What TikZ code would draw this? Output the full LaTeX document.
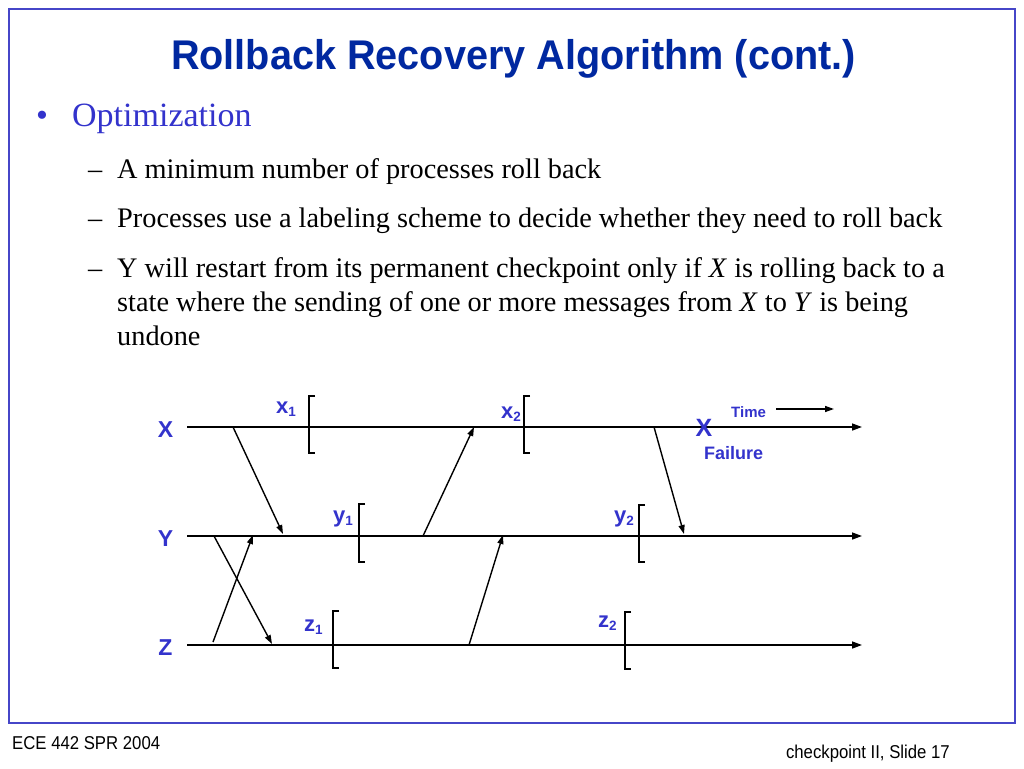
\documentclass[tikz,border=0pt]{standalone}
\usepackage{fontspec}
\setmainfont{Liberation Serif}
\newfontfamily\arial{Liberation Sans}
\newfontfamily\arialt[FakeStretch=0.955]{Liberation Sans}
\newfontfamily\arialn[FakeStretch=0.9]{Liberation Sans}
\usetikzlibrary{arrows.meta}
\definecolor{titleblue}{RGB}{0,40,160}
\definecolor{txtblue}{RGB}{51,51,204}
\definecolor{frameblue}{RGB}{70,70,200}
\tikzset{
  x=1pt, y=-1pt,
  tl/.style={line width=1.5pt, -{Triangle[length=10pt,width=7pt]}},
  msg/.style={line width=1.4pt, -{Triangle[length=9pt,width=6pt]}},
  ckpt/.style={line width=2.6pt, line cap=butt},
  proc/.style={inner sep=0, text=txtblue, font=\arial\bfseries\fontsize{23}{23}\selectfont},
  lab/.style={inner sep=0, anchor=base west, text=txtblue, font=\arial\bfseries\fontsize{22}{22}\selectfont},
  body/.style={inner sep=0, anchor=base west, font=\fontsize{28.3}{32}\selectfont},
}
\newcommand{\sub}[1]{\raisebox{-3pt}{\fontsize{13.5}{13.5}\selectfont #1}}
\begin{document}
\begin{tikzpicture}
\useasboundingbox (0,0) rectangle (1024,768);
\fill[white] (0,0) rectangle (1024,768);
\draw[frameblue, line width=2pt] (9,9) rectangle (1015,723);
% title
\node[inner sep=0, anchor=base, text=titleblue, font=\arialt\bfseries\fontsize{41.5}{44}\selectfont] (title) at (513.5,69) {Rollback Recovery Algorithm (cont.)};
% bullets
\node[inner sep=0, anchor=base west, text=txtblue, font=\fontsize{34}{36}\selectfont] (b0) at (36,126) {•};
\node[inner sep=0, anchor=base west, text=txtblue, font=\fontsize{34}{36}\selectfont] (opt) at (72,126) {Optimization};
\node[body] (d1) at (88,178) {–};
\node[body] (t1) at (117,178) {A minimum number of processes roll back};
\node[body] (d2) at (88,227) {–};
\node[body] (t2) at (117,227) {Processes use a labeling scheme to decide whether they need to roll back};
\node[body] (d3) at (88,277) {–};
\node[body] (t3) at (117,277) {Y will restart from its permanent checkpoint only if \textit{X} is rolling back to a};
\node[body] (t4) at (117,311) {state where the sending of one or more messages from \textit{X} to \textit{Y} is being};
\node[body] (t5) at (117,345) {undone};
% process labels
\node[proc] (X) at (165.5,430) {X};
\node[proc] (Y) at (165.5,539) {Y};
\node[proc] (Z) at (165.5,648) {Z};
% timelines
\coordinate (xs) at (187,427); \coordinate (xe) at (862,427);
\coordinate (ys) at (187,536); \coordinate (ye) at (862,536);
\coordinate (zs) at (187,645); \coordinate (ze) at (862,645);
\draw[tl] (xs) -- (xe);
\draw[tl] (ys) -- (ye);
\draw[tl] (zs) -- (ze);
% checkpoints
\draw[ckpt] (315,396) -| (309,453) -- (315,453);
\draw[ckpt] (530,396) -| (524,453) -- (530,453);
\draw[ckpt] (365,504) -| (359,562) -- (365,562);
\draw[ckpt] (339,611) -| (333,668) -- (339,668);
\draw[ckpt] (645,505) -| (639,562) -- (645,562);
\draw[ckpt] (631,612) -| (625,669) -- (631,669);
% checkpoint labels
\node[lab] (x1) at (276,413) {x\sub{1}};
\node[lab] (x2) at (501,418) {x\sub{2}};
\node[lab] (y1) at (333,522) {y\sub{1}};
\node[lab] (z1) at (304,631) {z\sub{1}};
\node[lab] (y2) at (614,522) {y\sub{2}};
\node[lab] (z2) at (598,627) {z\sub{2}};
% messages
\coordinate (m1a) at (233,427); \coordinate (m1b) at (283,534);
\coordinate (m2a) at (214,536); \coordinate (m2b) at (272,644);
\coordinate (m3a) at (213,642); \coordinate (m3b) at (253,535);
\coordinate (m4a) at (423,536); \coordinate (m4b) at (474,427);
\coordinate (m5a) at (469,645); \coordinate (m5b) at (503,535);
\coordinate (m6a) at (654,427); \coordinate (m6b) at (684,534);
\draw[msg] (m1a) -- (m1b);
\draw[msg] (m2a) -- (m2b);
\draw[msg] (m3a) -- (m3b);
\draw[msg] (m4a) -- (m4b);
\draw[msg] (m5a) -- (m5b);
\draw[msg] (m6a) -- (m6b);
% failure and time
\node[inner sep=0, text=txtblue, font=\arial\bfseries\fontsize{25}{25}\selectfont] (fx) at (704,428) {X};
\node[inner sep=0, anchor=base west, text=txtblue, font=\arial\bfseries\fontsize{18}{18}\selectfont] (fail) at (704,459) {Failure};
\node[inner sep=0, anchor=base west, text=txtblue, font=\arial\bfseries\fontsize{15}{15}\selectfont] (time) at (731,417) {Time};
\coordinate (ta) at (776,409); \coordinate (tb) at (834,409);
\draw[msg] (ta) -- (tb);
% footer
\node[inner sep=0, anchor=base west, font=\arialn\fontsize{18.6}{19}\selectfont] (f1) at (12,749) {ECE 442 SPR 2004};
\node[inner sep=0, anchor=base east, font=\arialn\fontsize{18.6}{19}\selectfont] (f2) at (950,758) {checkpoint II, Slide 17};
\end{tikzpicture}
\end{document}
